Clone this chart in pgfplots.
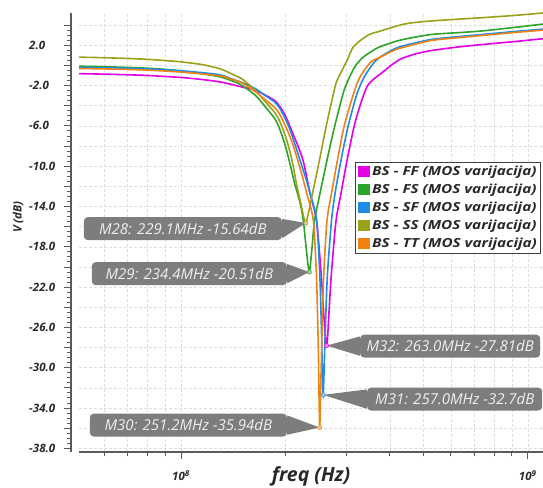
\documentclass[border=0pt]{standalone}
\usepackage{pgfplots}
\pgfplotsset{compat=1.18}
\usepackage{fontspec}
\setmainfont{Open Sans}
\newfontfamily\wide{Open Sans}[FakeStretch=1.22]
\definecolor{cFF}{RGB}{228,0,228}
\definecolor{cFS}{RGB}{45,165,40}
\definecolor{cSF}{RGB}{30,140,230}
\definecolor{cSS}{RGB}{155,162,25}
\definecolor{cTT}{RGB}{240,130,20}
\definecolor{mbox}{RGB}{125,125,125}
\definecolor{axgray}{RGB}{90,90,90}
\definecolor{lblgray}{RGB}{40,40,40}
\tikzset{mlabel/.style={fill=mbox, rounded corners=4pt, text=white!94!black, inner sep=0pt,
        font=\fontsize{15}{16}\selectfont\itshape, minimum height=23pt}}

\begin{document}
\begin{tikzpicture}
\begin{axis}[
    scale only axis, width=464pt, height=439pt,
    xmode=log, xmin=5.08e7, xmax=1.107e9,
    ymin=-38.37, ymax=5.2,
    axis x line*=bottom, axis y line*=left,
    axis line style={-, axgray, line width=1.2pt},
    y axis line style={xshift=-8pt},
    every y tick/.append style={xshift=-8pt},
    tick align=outside,
    major tick length=7pt, minor tick length=4pt,
    tick style={axgray, line width=0.8pt},
    xtick={1e8,1e9},
    xticklabels={10\textsuperscript{8}, 10\textsuperscript{9}},
    minor xtick={6e7,7e7,8e7,9e7,2e8,3e8,4e8,5e8,6e8,7e8,8e8,9e8},
    ytick={4,2,...,-38},
    yticklabels={,2.0,,-2.0,,-6.0,,-10.0,,-14.0,,-18.0,,-22.0,,-26.0,,-30.0,,-34.0,,-38.0},
    minor y tick num=3,
    xmajorgrids, xminorgrids, ymajorgrids,
    major grid style={black!13, dash pattern=on 3pt off 2pt},
    minor grid style={black!13, dash pattern=on 3pt off 2pt},
    yticklabel style={anchor=west, xshift=-43pt, inner sep=0pt, text=lblgray,
        font=\fontsize{11.5}{13}\selectfont\bfseries\itshape},
    xticklabel style={text=lblgray, yshift=-8pt,
        font=\fontsize{11.5}{13}\selectfont\bfseries\itshape},
    xlabel={freq (Hz)},
    xlabel style={at={(0.5,-0.0547)}, anchor=center, text=lblgray,
        font=\fontsize{19.5}{23}\selectfont\bfseries\itshape},
    ylabel={V (dB)},
    ylabel style={at={(-0.131,0.535)}, anchor=center, text=lblgray,
        font=\fontsize{11.5}{13}\selectfont\bfseries\itshape},
    legend style={at={(0.996,0.661)}, anchor=north east, draw=black!75,
        line width=0.8pt, fill=white, inner sep=2pt, row sep=3pt,
        font=\wide\fontsize{12.5}{14}\selectfont\bfseries\itshape, text=lblgray},
    legend cell align=left,
    legend image code/.code={\fill[#1] (0pt,-4.5pt) rectangle (11pt,4.5pt);},
    every axis plot post/.append style={smooth, tension=0.45},
]
% FF
\addplot[cFF, line width=1.6pt] coordinates {
    (5.08e7,-0.82)(6e7,-0.87)(7e7,-0.93)(8e7,-1.0)(9e7,-1.1)(1e8,-1.2)
    (1.15e8,-1.4)(1.3e8,-1.65)(1.43e8,-1.97)(1.5e8,-2.15)(1.636e8,-2.45)
    (1.75e8,-2.95)(1.865e8,-3.5)(1.93e8,-4.1)(2.0e8,-5.0)(2.104e8,-6.8)
    (2.18e8,-8.1)(2.256e8,-9.6)(2.356e8,-12.7)(2.459e8,-15.4)(2.534e8,-20.5)
    (2.578e8,-24.5)(2.61e8,-27.0)(2.63e8,-27.81)(2.647e8,-27.0)(2.672e8,-24.5)
    (2.717e8,-20.5)(2.80e8,-15.4)(2.894e8,-12.7)(3.013e8,-9.4)(3.155e8,-6.1)
    (3.283e8,-4.0)(3.44e8,-2.1)(3.6e8,-1.35)(3.776e8,-0.8)(4.0e8,-0.1)
    (4.282e8,0.6)(4.7e8,1.1)(5.226e8,1.45)(6.2e8,1.8)(7.287e8,2.05)
    (9.07e8,2.35)(1.107e9,2.65)
};
\addlegendentry{BS - FF (MOS varijacija)}
% FS
\addplot[cFS, line width=1.6pt] coordinates {
    (5.08e7,-0.08)(6e7,-0.13)(7e7,-0.2)(8e7,-0.28)(9e7,-0.4)(1e8,-0.55)
    (1.15e8,-0.82)(1.3e8,-1.15)(1.43e8,-1.64)(1.5e8,-2.0)(1.636e8,-2.95)
    (1.75e8,-4.1)(1.865e8,-5.3)(1.93e8,-6.4)(2.0e8,-8.0)(2.063e8,-9.8)
    (2.13e8,-11.8)(2.204e8,-13.6)(2.253e8,-15.4)(2.294e8,-18.0)(2.344e8,-20.51)
    (2.388e8,-18.0)(2.427e8,-15.4)(2.517e8,-12.7)(2.637e8,-9.4)(2.772e8,-6.1)
    (2.934e8,-2.8)(3.031e8,-1.5)(3.177e8,-0.1)(3.349e8,0.8)(3.55e8,1.4)
    (3.75e8,1.85)(4.282e8,2.5)(5.226e8,3.05)(6.3e8,3.25)(7.287e8,3.4)
    (9.07e8,3.75)(1.107e9,4.1)
};
\addlegendentry{BS - FS (MOS varijacija)}
% SF
\addplot[cSF, line width=1.6pt] coordinates {
    (5.08e7,-0.2)(6e7,-0.23)(7e7,-0.28)(8e7,-0.35)(9e7,-0.44)(1e8,-0.54)
    (1.15e8,-0.72)(1.3e8,-0.95)(1.43e8,-1.45)(1.5e8,-1.7)(1.636e8,-2.3)
    (1.75e8,-3.0)(1.865e8,-3.65)(1.93e8,-4.3)(2.0e8,-5.3)(2.063e8,-6.4)
    (2.13e8,-7.8)(2.204e8,-9.4)(2.3e8,-11.4)(2.388e8,-13.4)(2.462e8,-15.4)
    (2.515e8,-21.0)(2.542e8,-26.5)(2.557e8,-30.5)(2.570e8,-32.7)(2.585e8,-30.5)
    (2.606e8,-26.5)(2.642e8,-21.0)(2.717e8,-15.4)(2.782e8,-12.7)(2.894e8,-9.4)
    (3.031e8,-6.1)(3.219e8,-2.8)(3.395e8,-1.0)(3.651e8,0.5)(3.955e8,1.3)
    (4.282e8,1.85)(5.226e8,2.55)(6.3e8,2.85)(7.287e8,3.05)(9.07e8,3.35)
    (1.107e9,3.6)
};
\addlegendentry{BS - SF (MOS varijacija)}
% SS
\addplot[cSS, line width=1.6pt] coordinates {
    (5.08e7,0.82)(6e7,0.76)(7e7,0.69)(8e7,0.6)(9e7,0.48)(1e8,0.35)
    (1.15e8,0.08)(1.3e8,-0.35)(1.43e8,-1.0)(1.5e8,-1.35)(1.636e8,-2.45)
    (1.75e8,-3.6)(1.865e8,-4.7)(1.93e8,-5.6)(2.0e8,-7.0)(2.063e8,-8.6)
    (2.104e8,-9.9)(2.157e8,-11.9)(2.229e8,-14.1)(2.26e8,-15.1)(2.291e8,-15.64)
    (2.34e8,-14.4)(2.395e8,-12.7)(2.508e8,-9.4)(2.62e8,-6.1)(2.753e8,-2.8)
    (2.818e8,-1.5)(3.013e8,0.5)(3.135e8,1.8)(3.327e8,2.6)(3.509e8,3.1)
    (3.75e8,3.4)(4.282e8,4.0)(4.577e8,4.2)(5.226e8,4.4)(6.377e8,4.6)
    (7.287e8,4.72)(9.071e8,4.95)(1.107e9,5.2)
};
\addlegendentry{BS - SS (MOS varijacija)}
% TT
\addplot[cTT, line width=1.6pt] coordinates {
    (5.08e7,-0.31)(6e7,-0.35)(7e7,-0.4)(8e7,-0.47)(9e7,-0.56)(1e8,-0.66)
    (1.15e8,-0.85)(1.3e8,-1.05)(1.43e8,-1.47)(1.5e8,-1.75)(1.636e8,-2.6)
    (1.75e8,-3.4)(1.865e8,-4.2)(1.93e8,-4.9)(2.018e8,-6.3)(2.09e8,-7.6)
    (2.157e8,-9.1)(2.23e8,-10.8)(2.305e8,-12.7)(2.408e8,-15.4)(2.459e8,-21.0)
    (2.487e8,-27.5)(2.500e8,-32.5)(2.512e8,-35.94)(2.527e8,-32.5)(2.547e8,-27.5)
    (2.578e8,-21.0)(2.637e8,-15.4)(2.717e8,-12.7)(2.827e8,-9.4)(2.952e8,-6.1)
    (3.145e8,-2.8)(3.283e8,-1.15)(3.532e8,0.35)(3.75e8,0.8)(4.0e8,1.3)
    (4.282e8,1.7)(5.226e8,2.45)(6.3e8,2.75)(7.287e8,2.95)(9.07e8,3.25)
    (1.107e9,3.5)
};
\addlegendentry{BS - TT (MOS varijacija)}

% marker call-outs
\node[mlabel, anchor=east, minimum width=198pt] (m28) at (axis cs:1.956e8,-16.2) {M28: 229.1MHz -15.64dB};
\fill[mbox] ([yshift=-2pt]m28.north east) -- (axis cs:2.291e8,-15.64) -- ([yshift=2pt]m28.south east) -- cycle;
\node[mlabel, anchor=east, minimum width=195pt] (m29) at (axis cs:2.022e8,-20.67) {M29: 234.4MHz -20.51dB};
\fill[mbox] ([yshift=-2pt]m29.north east) -- (axis cs:2.344e8,-20.51) -- ([yshift=2pt]m29.south east) -- cycle;
\node[mlabel, anchor=east, minimum width=197pt] (m30) at (axis cs:2.022e8,-35.7) {M30: 251.2MHz -35.94dB};
\fill[mbox] ([yshift=-2pt]m30.north east) -- (axis cs:2.512e8,-35.94) -- ([yshift=2pt]m30.south east) -- cycle;
\node[mlabel, anchor=west, minimum width=180pt] (m32) at (axis cs:3.283e8,-27.86) {M32: 263.0MHz -27.81dB};
\fill[mbox] ([yshift=-2pt]m32.north west) -- (axis cs:2.63e8,-27.81) -- ([yshift=2pt]m32.south west) -- cycle;
\node[mlabel, anchor=west, minimum width=175pt] (m31) at (axis cs:3.44e8,-33.12) {M31: 257.0MHz -32.7dB};
\fill[mbox] ([yshift=-2pt]m31.north west) -- (axis cs:2.57e8,-32.7) -- ([yshift=2pt]m31.south west) -- cycle;

\addplot[only marks, mark=*, mark size=2.2pt, draw=cSS, fill=cSS!50!white, forget plot] coordinates {(2.291e8,-15.64)};
\addplot[only marks, mark=*, mark size=2.2pt, draw=cFS, fill=cFS!50!white, forget plot] coordinates {(2.344e8,-20.51)};
\addplot[only marks, mark=*, mark size=2.2pt, draw=cTT, fill=cTT!50!white, forget plot] coordinates {(2.512e8,-35.94)};
\addplot[only marks, mark=*, mark size=2.2pt, draw=cSF, fill=cSF!50!white, forget plot] coordinates {(2.570e8,-32.7)};
\addplot[only marks, mark=*, mark size=2.2pt, draw=cFF, fill=cFF!50!white, forget plot] coordinates {(2.63e8,-27.81)};
\end{axis}
\pgfresetboundingbox
\path (current axis.south west) ++(-79pt,-35pt) rectangle ++(543pt,487pt);
\end{tikzpicture}
\end{document}
